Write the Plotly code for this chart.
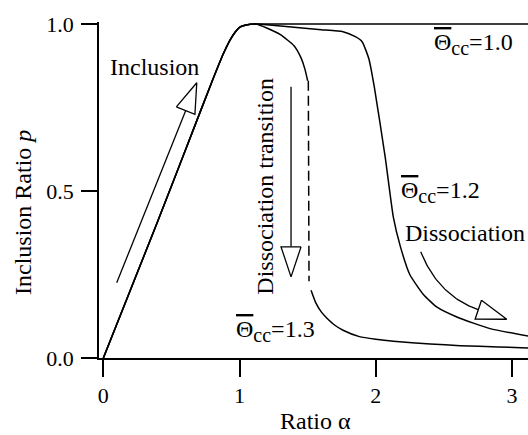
import numpy as np
import plotly.graph_objects as go

# ---- data -------------------------------------------------------------
# shared inclusion rise (all three curves coincide here)
alpha_rise = [0.0, 0.2, 0.4, 0.6, 0.8, 0.88, 0.93, 0.97, 1.0, 1.04, 1.08, 1.12]
p_rise = [0.0, 0.205, 0.41, 0.62, 0.83, 0.91, 0.952, 0.977, 0.99, 0.996, 0.999, 1.0]

# Θcc = 1.0 : stays fully included
alpha_10 = [1.2, 1.4, 1.8, 2.4, 3.12]
p_10 = [1.0, 1.0, 1.0, 1.0, 1.0]

# Θcc = 1.2 : smooth dissociation
alpha_12 = [1.2, 1.4, 1.6, 1.76, 1.85, 1.9, 1.95, 1.99, 2.07, 2.13, 2.18,
            2.25, 2.35, 2.45, 2.6, 2.84, 3.12]
p_12 = [0.998, 0.99, 0.983, 0.977, 0.962, 0.947, 0.895, 0.81, 0.60, 0.42, 0.335,
        0.25, 0.19, 0.152, 0.122, 0.088, 0.066]

# Θcc = 1.3 : upper branch, jump, lower branch
alpha_13_up = [1.2, 1.3, 1.4, 1.45, 1.48, 1.5]
p_13_up = [0.988, 0.968, 0.935, 0.9, 0.865, 0.83]
alpha_13_jump = [1.505, 1.51]
p_13_jump = [0.83, 0.23]
alpha_13_low = [1.525, 1.56, 1.6, 1.64, 1.7, 1.76, 1.88, 2.0, 2.13, 2.4,
                2.62, 2.9, 3.12]
p_13_low = [0.203, 0.165, 0.138, 0.12, 0.098, 0.083, 0.064, 0.056, 0.05,
            0.042, 0.037, 0.033, 0.03]

# arrows: tail, (optional bend control), tip  in (alpha, p)
arrow_inclusion = [(0.098, 0.225), (0.686, 0.824)]
arrow_transition = [(1.378, 0.812), (1.378, 0.243)]
arrow_dissociation = [(2.330, 0.318), (2.460, 0.186), (2.757, 0.144), (2.962, 0.116)]

x_ticks = [0, 1, 2, 3]
y_ticks = [0.0, 0.5, 1.0]
y_tick_text = ["0.0", "0.5", "1.0"]

# ---- layout geometry --------------------------------------------------
W, H = 528, 435
M_L, M_R, M_T, M_B = 99, 0, 22, 77
X_RANGE = [-0.032, 3.118]
Y_RANGE = [0.0, 1.006]
PW, PH = W - M_L - M_R, H - M_T - M_B
SX = PW / (X_RANGE[1] - X_RANGE[0])
SY = PH / (Y_RANGE[1] - Y_RANGE[0])

FONT = "Liberation Serif"
INK = "black"
LW = 1.5

fig = go.Figure()


def add_line(xs, ys, dash="solid"):
    fig.add_trace(go.Scatter(x=xs, y=ys, mode="lines",
                             line=dict(color=INK, width=LW, dash=dash,
                                       shape="spline", smoothing=0.5),
                             hoverinfo="skip", showlegend=False))


add_line(alpha_rise + alpha_10, p_rise + p_10)
add_line(alpha_rise + alpha_12, p_rise + p_12)
add_line(alpha_rise + alpha_13_up, p_rise + p_13_up)
fig.add_trace(go.Scatter(x=alpha_13_jump, y=p_13_jump, mode="lines",
                         line=dict(color=INK, width=LW, dash="10px,5px"),
                         hoverinfo="skip", showlegend=False))
add_line(alpha_13_low, p_13_low)


def open_head(prev, tip, length=30.0, width=20.0):
    """Open triangular arrowhead; returns base centre and outline in data units."""
    px0, py0 = prev[0] * SX, prev[1] * SY
    px1, py1 = tip[0] * SX, tip[1] * SY
    d = np.array([px1 - px0, py1 - py0])
    u = d / np.hypot(*d)
    n = np.array([-u[1], u[0]])
    t = np.array([px1, py1])
    b = t - length * u
    c1, c2 = b + n * width / 2, b - n * width / 2
    pts = [c1, t, c2, c1]
    xs = [q[0] / SX for q in pts]
    ys = [q[1] / SY for q in pts]
    return (b[0] / SX, b[1] / SY), xs, ys


def draw_arrow(shaft_x, shaft_y, head_x, head_y):
    fig.add_trace(go.Scatter(x=shaft_x, y=shaft_y, mode="lines",
                             line=dict(color=INK, width=1.3),
                             hoverinfo="skip", showlegend=False))
    fig.add_trace(go.Scatter(x=head_x, y=head_y, mode="lines", fill="toself",
                             fillcolor="white", line=dict(color=INK, width=1.3),
                             hoverinfo="skip", showlegend=False))


for tail, tip in (arrow_inclusion, arrow_transition):
    base, hx, hy = open_head(tail, tip)
    draw_arrow([tail[0], base[0]], [tail[1], base[1]], hx, hy)

# curved dissociation arrow (quadratic Bezier shaft)
p0, pc, p2, ptip = [np.array(v) for v in arrow_dissociation]
base, hx, hy = open_head(p2, ptip)
tt = np.linspace(0, 1, 40)[:, None]
curve = (1 - tt) ** 2 * p0 + 2 * (1 - tt) * tt * pc + tt ** 2 * p2
draw_arrow(list(curve[:, 0]) + [base[0]], list(curve[:, 1]) + [base[1]], hx, hy)

# ---- annotations ------------------------------------------------------
TXT = dict(family=FONT, size=24, color=INK)
THETA = ('<span style="text-decoration:overline">\u0398</span>'
         '<sub><span style="font-size:20px">cc</span></sub>')


def label(x, y, text, xanchor="center", angle=0):
    fig.add_annotation(x=x, y=y, xref="x", yref="y", text=text, showarrow=False,
                       font=TXT, xanchor=xanchor, yanchor="middle", textangle=angle,
                       borderpad=0)


label(0.372, 0.871, "Inclusion")
label(1.187, 0.513, "Dissociation transition", angle=-90)
label(2.655, 0.373, "Dissociation")
label(2.42, 0.94, THETA + "=1.0", xanchor="left")
label(2.178, 0.497, THETA + "=1.2", xanchor="left")
label(0.966, 0.081, THETA + "=1.3", xanchor="left")

fig.add_annotation(x=(23 - M_L) / PW, y=(PH + M_T - 213) / PH, xref="paper", yref="paper",
                   text="Inclusion Ratio <i>p</i>", showarrow=False, font=TXT,
                   textangle=-90, xanchor="center", yanchor="middle")
fig.add_annotation(x=(315 - M_L) / PW, y=(PH + M_T - 421) / PH, xref="paper", yref="paper",
                   text="Ratio \u03b1", showarrow=False, font=TXT,
                   xanchor="center", yanchor="middle")

fig.update_layout(
    width=W, height=H,
    margin=dict(l=M_L, r=M_R, t=M_T, b=M_B, pad=0),
    paper_bgcolor="white", plot_bgcolor="white",
    font=dict(family=FONT, size=22, color=INK),
    xaxis=dict(range=X_RANGE, showgrid=False, zeroline=False,
               showline=True, linecolor=INK, linewidth=2,
               ticks="outside", ticklen=17, tickwidth=2, tickcolor=INK,
               tickvals=x_ticks, ticklabelstandoff=0,
               tickfont=dict(family=FONT, size=22, color=INK)),
    yaxis=dict(range=Y_RANGE, showgrid=False, zeroline=False,
               showline=True, linecolor=INK, linewidth=1.5,
               ticks="outside", ticklen=16, tickwidth=1.5, tickcolor=INK,
               tickvals=y_ticks, ticktext=y_tick_text, ticklabelstandoff=3,
               tickfont=dict(family=FONT, size=22, color=INK)),
)

fig.write_html("out.html")
